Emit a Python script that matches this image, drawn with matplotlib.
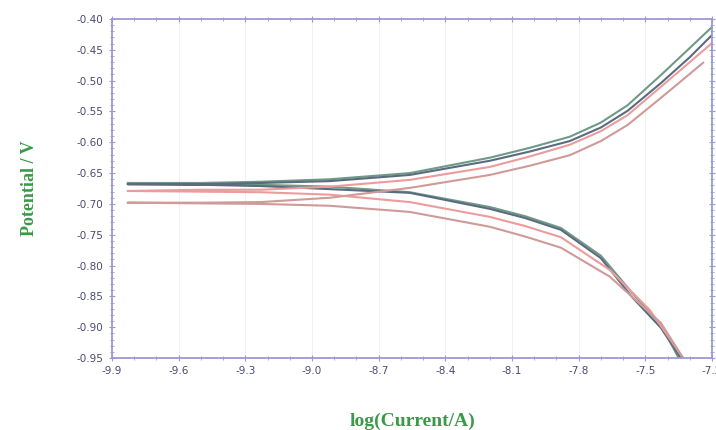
import numpy as np
import matplotlib.pyplot as plt
from matplotlib.ticker import MultipleLocator

# values (log current / potential)
# curve A: green-teal
a_cat_x = [-9.83, -9.50, -9.23, -8.92, -8.56, -8.20, -8.04, -7.88, -7.70, -7.56, -7.43, -7.35]
a_cat_e = [-0.666, -0.668, -0.669, -0.672, -0.681, -0.705, -0.720, -0.739, -0.784, -0.844, -0.896, -0.950]
a_ano_x = [-9.83, -9.50, -9.23, -8.92, -8.56, -8.20, -8.02, -7.84, -7.70, -7.58, -7.43, -7.30, -7.20]
a_ano_e = [-0.666, -0.666, -0.664, -0.660, -0.650, -0.625, -0.609, -0.591, -0.568, -0.540, -0.491, -0.447, -0.413]
# curve B: slate grey
b_cat_x = [-9.83, -9.50, -9.23, -8.92, -8.56, -8.20, -8.04, -7.88, -7.70, -7.56, -7.43, -7.34]
b_cat_e = [-0.668, -0.669, -0.671, -0.676, -0.682, -0.708, -0.723, -0.742, -0.788, -0.851, -0.901, -0.950]
b_ano_x = [-9.83, -9.50, -9.23, -8.92, -8.56, -8.20, -8.02, -7.84, -7.70, -7.58, -7.43, -7.30, -7.20]
b_ano_e = [-0.668, -0.668, -0.666, -0.663, -0.653, -0.630, -0.615, -0.598, -0.576, -0.549, -0.504, -0.462, -0.426]
# curve C: pink red
c_cat_x = [-9.83, -9.23, -8.92, -8.56, -8.20, -8.04, -7.88, -7.66, -7.48, -7.33]
c_cat_e = [-0.679, -0.681, -0.685, -0.697, -0.721, -0.736, -0.754, -0.807, -0.872, -0.950]
c_ano_x = [-9.83, -9.50, -9.23, -8.92, -8.56, -8.20, -8.02, -7.84, -7.70, -7.58, -7.43, -7.30, -7.20]
c_ano_e = [-0.677, -0.677, -0.677, -0.672, -0.661, -0.640, -0.623, -0.604, -0.582, -0.556, -0.510, -0.470, -0.439]
# curve D: muted brown red
d_cat_x = [-9.83, -9.23, -8.92, -8.56, -8.20, -8.04, -7.88, -7.66, -7.43, -7.33]
d_cat_e = [-0.698, -0.700, -0.703, -0.713, -0.737, -0.753, -0.771, -0.818, -0.893, -0.950]
d_ano_x = [-9.83, -9.50, -9.23, -8.92, -8.56, -8.20, -8.02, -7.84, -7.70, -7.58, -7.43, -7.24]
d_ano_e = [-0.698, -0.698, -0.697, -0.690, -0.674, -0.653, -0.638, -0.621, -0.598, -0.572, -0.528, -0.471]

x_ticks = [-9.9, -9.6, -9.3, -9.0, -8.7, -8.4, -8.1, -7.8, -7.5, -7.2]
y_ticks = [-0.40, -0.45, -0.50, -0.55, -0.60, -0.65, -0.70, -0.75, -0.80, -0.85, -0.90, -0.95]

curves = [
    (a_cat_x, a_cat_e, a_ano_x, a_ano_e, '#6f9a86'),
    (b_cat_x, b_cat_e, b_ano_x, b_ano_e, '#5a6b80'),
    (c_cat_x, c_cat_e, c_ano_x, c_ano_e, '#eb9c9c'),
    (d_cat_x, d_cat_e, d_ano_x, d_ano_e, '#cf9a98'),
]

fig = plt.figure(figsize=(7.16, 4.30), dpi=100)
ax = fig.add_axes([0.1564, 0.1674, 0.838, 0.7884])

for cx, ce, ax_, ae, col in curves:
    # lower branch back to the tip, then the upper branch
    xs = list(cx[::-1]) + list(ax_[1:])
    es = list(ce[::-1]) + list(ae[1:])
    ax.plot(xs, es, color=col, lw=1.5, solid_joinstyle='round')

ax.set_xlim(-9.9, -7.2)
ax.set_ylim(-0.95, -0.40)
ax.set_xticks(x_ticks)
ax.set_xticklabels(['%.1f' % v for v in x_ticks])
ax.set_yticks(y_ticks)
ax.set_yticklabels(['%.2f' % v for v in y_ticks])
ax.xaxis.set_minor_locator(MultipleLocator(0.1))
ax.yaxis.set_minor_locator(MultipleLocator(0.01))
ax.grid(axis='x', color='#f0f0f6', lw=0.8)

spine_col = '#9a9ad0'
for s in ax.spines.values():
    s.set_color(spine_col)
    s.set_linewidth(1.3)
ax.tick_params(which='both', direction='inout', color=spine_col,
               top=True, right=True, labelcolor='#4a4a72', labelsize=7.5)
ax.tick_params(which='major', length=5)
ax.tick_params(which='minor', length=3)

ax.set_xlabel('log(Current/A)', family='Liberation Serif', fontweight='bold',
              fontsize=14, color='#3a9a48', labelpad=26)
ax.set_ylabel('Potential / V', family='Liberation Serif', fontweight='bold',
              fontsize=13, color='#3a9a48', labelpad=28)

plt.savefig('out.png', dpi=100)
